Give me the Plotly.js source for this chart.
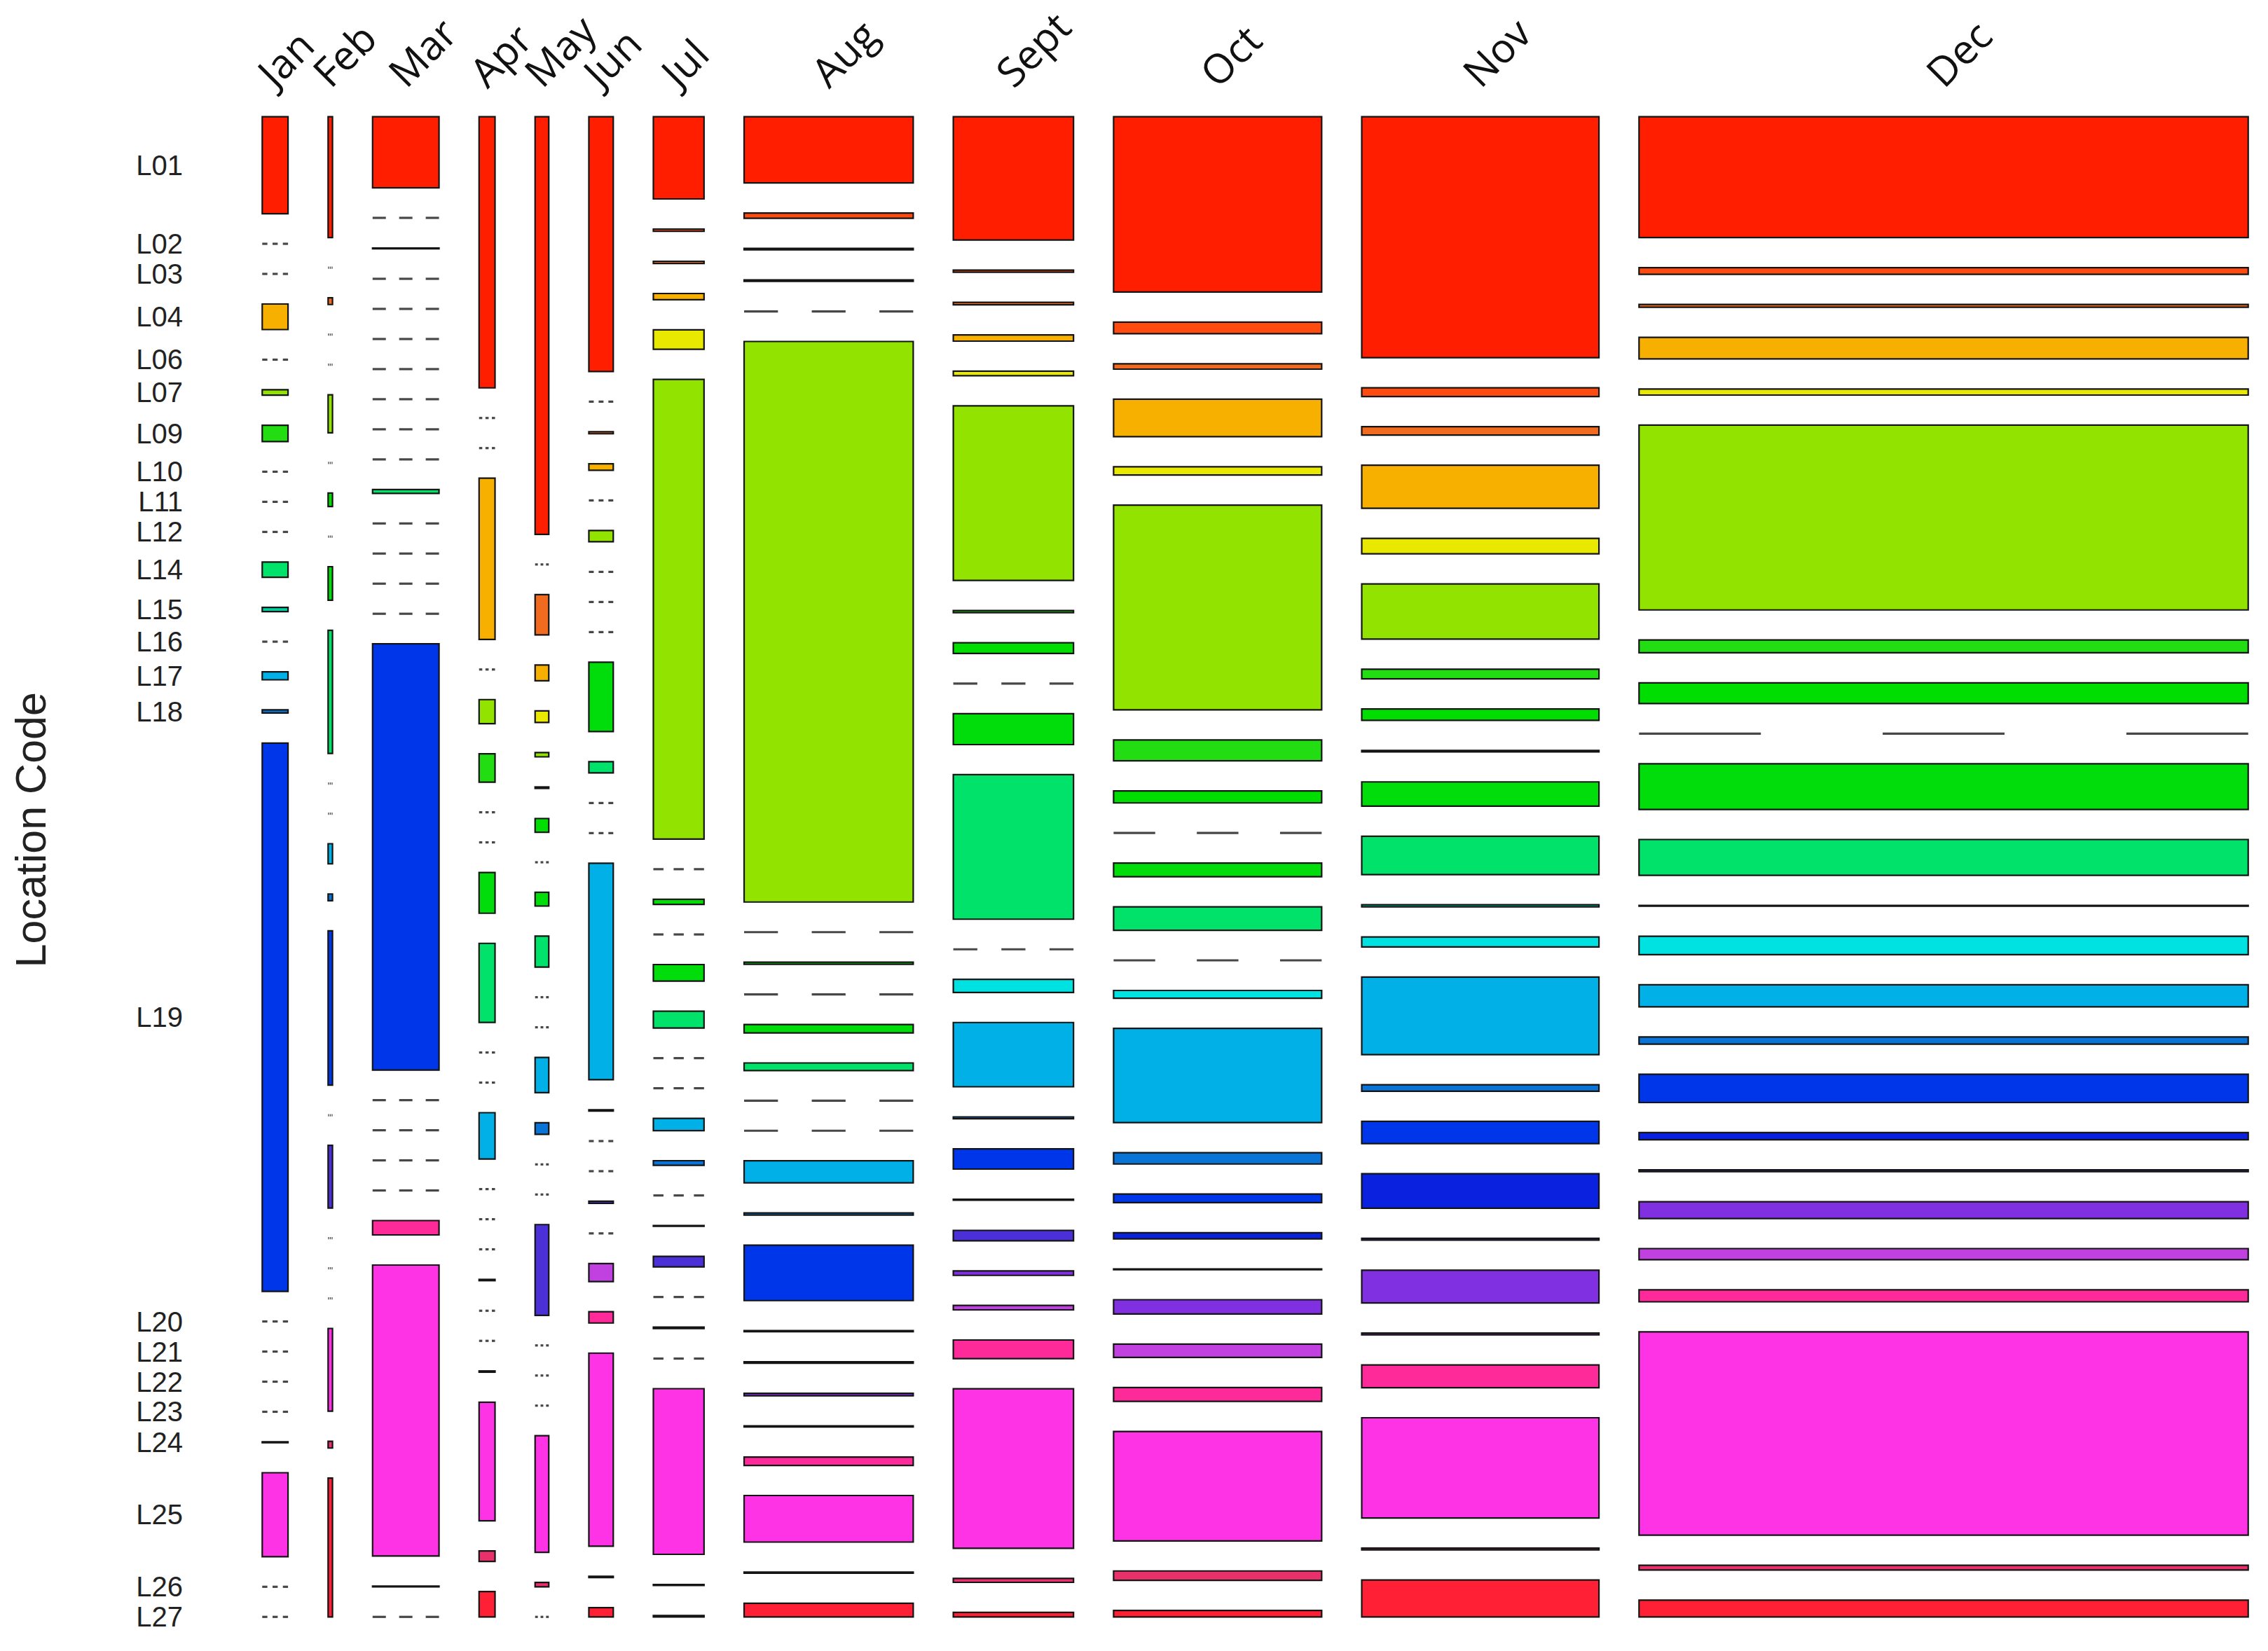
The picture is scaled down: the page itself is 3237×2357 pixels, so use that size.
<!DOCTYPE html>
<html>
<head>
<meta charset="utf-8">
<script src="https://cdn.plot.ly/plotly-3.0.1.min.js"></script>
<style>html,body{margin:0;padding:0;background:#fff}#chart{width:3237px;height:2357px}</style>
</head>
<body>
<div id="chart"></div>
<script>
// Months (columns) and location codes (rows)
const months = ['Jan','Feb','Mar','Apr','May','Jun','Jul','Aug','Sept','Oct','Nov','Dec'];
const locationCodes = ['L01','L02','L03','L04','L06','L07','L09','L10','L11','L12','L14','L15',
                       'L16','L17','L18','L19','L20','L21','L22','L23','L24','L25','L26','L27'];

// Counts per location, by month (Jan ... Dec)
const L01 = [254, 54, 479, 439, 580, 632, 423, 1137, 1505, 3705, 5806, 7476];
const L02 = [0, 0, 0, 0, 0, 0, 11, 90, 26, 244, 210, 410];
const L03 = [0, 3, 5, 0, 56, 5, 11, 24, 30, 113, 203, 180];
const L04 = [67, 0, 0, 261, 22, 16, 32, 24, 76, 792, 1039, 1330];
const L06 = [0, 0, 0, 0, 16, 0, 100, 0, 55, 173, 374, 375];
const L07 = [14, 17, 0, 39, 6, 28, 2367, 9631, 2133, 4329, 1329, 11435];
const L09 = [43, 0, 0, 46, 2, 0, 0, 0, 26, 440, 233, 786];
const L10 = [0, 6, 0, 0, 19, 0, 26, 36, 130, 254, 273, 1282];
const L11 = [0, 0, 0, 0, 0, 0, 0, 0, 0, 0, 34, 0];
const L12 = [0, 15, 0, 66, 19, 172, 85, 143, 378, 288, 585, 2827];
const L14 = [40, 55, 26, 128, 43, 28, 87, 130, 1765, 495, 923, 2215];
const L15 = [11, 0, 0, 0, 0, 0, 0, 0, 0, 0, 52, 44];
const L16 = [0, 0, 0, 0, 0, 0, 0, 0, 159, 164, 240, 1143];
const L17 = [21, 9, 0, 75, 49, 537, 63, 379, 785, 1993, 1872, 1364];
const L18 = [8, 3, 0, 0, 16, 3, 24, 36, 22, 239, 156, 445];
const L19 = [1437, 69, 2876, 0, 0, 0, 0, 952, 248, 181, 537, 1752];
const L20 = [0, 0, 0, 0, 0, 0, 4, 18, 13, 128, 831, 441];
const L21 = [0, 28, 0, 2, 126, 5, 54, 24, 128, 15, 42, 112];
const L22 = [0, 0, 0, 0, 0, 0, 0, 42, 54, 301, 792, 1036];
const L23 = [0, 0, 0, 0, 0, 45, 7, 18, 54, 283, 42, 691];
const L24 = [2, 0, 97, 2, 0, 28, 0, 144, 228, 292, 547, 739];
const L25 = [220, 37, 1963, 192, 162, 479, 853, 800, 1948, 2313, 2417, 12582];
const L26 = [0, 3, 5, 17, 6, 3, 5, 18, 49, 197, 42, 293];
const L27 = [0, 62, 0, 41, 0, 23, 7, 233, 54, 137, 889, 1036];

const locationColors = ['#FF1E00','#FF4A10','#F06A20','#F7B000','#E8E800','#93E300',
                        '#22DD11','#00DD00','#00D830','#00DD0A','#00E26A','#00D0A0',
                        '#00E2E2','#00B0E6','#0A74D6','#0036EA','#0A22E0','#4B30D8',
                        '#8030E0','#C040E0','#FF2A9A','#FF33E6','#E8306A','#FF2035'];

// ---- mosaic layout computed from the counts ----
const table = [L01,L02,L03,L04,L06,L07,L09,L10,L11,L12,L14,L15,L16,L17,L18,L19,L20,L21,L22,L23,L24,L25,L26,L27];
const nM = months.length, nL = locationCodes.length;
const monthTotals = months.map((_, m) => table.reduce((s, row) => s + row[m], 0));
const grand = monthTotals.reduce((a, b) => a + b, 0);
const offX = 0.222, offY = 0.4615;
const gapX = offX / (nM - 1), gapY = offY / (nL - 1);

const colLeft = [], colWidth = [], colCenter = [];
let cx = 0;
for (let m = 0; m < nM; m++) {
  const w = (1 - offX) * monthTotals[m] / grand;
  colLeft.push(cx); colWidth.push(w); colCenter.push(cx + w / 2);
  cx += w + gapX;
}
const rowTop = table.map(() => new Array(nM));
const rowH = table.map(() => new Array(nM));
for (let m = 0; m < nM; m++) {
  let y = 0;
  for (let l = 0; l < nL; l++) {
    const h = (1 - offY) * table[l][m] / monthTotals[m];
    rowTop[l][m] = y; rowH[l][m] = h;
    y += h + gapY;
  }
}

const traces = [];
for (let l = 0; l < nL; l++) {
  traces.push({
    type: 'bar',
    name: locationCodes[l],
    x: colCenter,
    y: rowH[l].map(h => h > 0 ? h : null),
    base: rowTop[l],
    width: colWidth,
    marker: {color: locationColors[l], line: {color: '#141414', width: 2.2}},
    hoverinfo: 'skip',
    showlegend: false
  });
}
// zero cells: dashed line of three dashes across the column
const zx = [], zy = [];
for (let l = 0; l < nL; l++) {
  for (let m = 0; m < nM; m++) {
    if (table[l][m] === 0) {
      for (let k = 0; k < 3; k++) {
        const a = colLeft[m] + colWidth[m] * (2 * k) / 5;
        const b = colLeft[m] + colWidth[m] * (2 * k + 1) / 5;
        zx.push(a, b, null); zy.push(rowTop[l][m], rowTop[l][m], null);
      }
    }
  }
}
traces.push({type: 'scatter', mode: 'lines', x: zx, y: zy, connectgaps: false,
  line: {color: '#474747', width: 3.2}, hoverinfo: 'skip', showlegend: false});

const yTickVals = locationCodes.map((_, l) => rowTop[l][0] + rowH[l][0] / 2);

const layout = {
  width: 3237, height: 2357,
  margin: {l: 372, r: 26, t: 165, b: 47, pad: 0},
  paper_bgcolor: '#ffffff', plot_bgcolor: '#ffffff',
  barmode: 'overlay',
  showlegend: false,
  xaxis: {
    range: [-0.0008, 1.0008], side: 'top',
    tickmode: 'array', tickvals: colCenter, ticktext: months,
    tickangle: -45, ticks: '', ticklabelstandoff: 16, ticklabelshift: -20,
    tickfont: {family: 'Open Sans', size: 58, color: '#111'},
    showgrid: false, zeroline: false, showline: false, fixedrange: true
  },
  yaxis: {
    range: [1.0008, -0.0008],
    tickmode: 'array', tickvals: yTickVals, ticktext: locationCodes,
    ticks: '', ticklabelstandoff: 110,
    tickfont: {family: 'Liberation Sans', size: 40, color: '#222'},
    showgrid: false, zeroline: false, showline: false, fixedrange: true
  },
  annotations: [{
    text: 'Location Code', xref: 'paper', yref: 'paper',
    x: -0.1157, y: 0.5245, xanchor: 'center', yanchor: 'middle',
    textangle: -90, showarrow: false,
    font: {family: 'Liberation Sans', size: 61, color: '#222'}
  }]
};

Plotly.newPlot('chart', traces, layout, {staticPlot: true, displayModeBar: false});
</script>
</body>
</html>
